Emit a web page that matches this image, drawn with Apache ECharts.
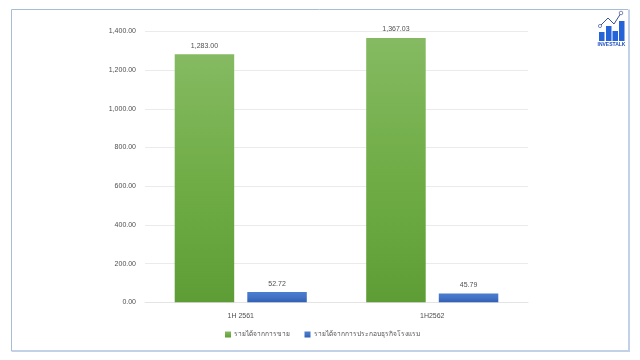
<!DOCTYPE html>
<html><head><meta charset="utf-8">
<script src="https://cdn.jsdelivr.net/npm/echarts@6/dist/echarts.min.js"></script>
<style>html,body{margin:0;padding:0;background:#fff}#c{width:640px;height:360px;filter:blur(0.35px)}</style>
</head><body><div id="c"></div>
<script>
const categories = ['1H 2561', '1H2562'];
const salesName = 'รายได้จากการขาย';
const hotelName = 'รายได้จากการประกอบธุรกิจโรงแรม';
const salesValues = [1283.00, 1367.03];
const hotelValues = [52.72, 45.79];
const fontFamily = '"Liberation Sans", "Noto Sans", "DejaVu Sans", sans-serif';
const fmt = v => v.toLocaleString('en-US', {minimumFractionDigits: 2, maximumFractionDigits: 2});
const grad = (a, b, c) => new echarts.graphic.LinearGradient(0, 0, 0, 1, [
  {offset: 0, color: a}, {offset: 0.5, color: b}, {offset: 1, color: c}]);
const label = {show: true, position: 'top', distance: 5, fontSize: 7, color: '#4f4f4f', fontFamily,
  formatter: p => fmt(p.value)};
const blue = '#2563d8';
const chart = echarts.init(document.getElementById('c'), null, {renderer: 'canvas'});
chart.setOption({
  animation: false,
  backgroundColor: '#fff',
  grid: {left: 145, right: 112, top: 31.5, bottom: 57.7},
  legend: {
    left: 225, top: 331, padding: 0, itemWidth: 6, itemHeight: 6, itemGap: 14.5,
    icon: 'rect',
    textStyle: {fontSize: 6.6, color: '#4f4f4f', fontFamily, padding: [0, 0, 0, -2]},
    data: [salesName, hotelName]
  },
  xAxis: {
    type: 'category', data: categories,
    axisLine: {lineStyle: {color: '#e4e4e4', width: 1}},
    axisTick: {show: false},
    axisLabel: {fontSize: 7, color: '#4f4f4f', margin: 10, fontFamily}
  },
  yAxis: {
    type: 'value', min: 0, max: 1400, interval: 200,
    axisLine: {show: false}, axisTick: {show: false},
    splitLine: {lineStyle: {color: '#ebebeb', width: 1}},
    axisLabel: {fontSize: 7, color: '#4f4f4f', margin: 9, fontFamily, padding: [2, 0, 0, 0], formatter: v => fmt(v)}
  },
  series: [
    {name: salesName, type: 'bar', data: salesValues, barWidth: 59.5, barGap: '22%',
     itemStyle: {color: grad('#85ba62', '#70ad47', '#5e9d35')}, label},
    {name: hotelName, type: 'bar', data: hotelValues, barWidth: 59.5,
     itemStyle: {color: grad('#4a7fd0', '#4472c4', '#2f5fb5')}, label}
  ],
  graphic: [
    {type: 'polyline', silent: true, shape: {points: [[629, 9.5], [629, 351], [11.5, 351]]},
     style: {fill: 'none', stroke: '#c3d1e8', lineWidth: 2}},
    {type: 'polyline', silent: true, shape: {points: [[11.5, 351], [11.5, 9.5], [628, 9.5]]},
     style: {fill: 'none', stroke: '#a9bcd6', lineWidth: 1}},
    {type: 'rect', silent: true, shape: {x: 599, y: 32, width: 5.5, height: 9}, style: {fill: blue}},
    {type: 'rect', silent: true, shape: {x: 606, y: 26, width: 5.5, height: 15}, style: {fill: blue}},
    {type: 'rect', silent: true, shape: {x: 612.5, y: 31, width: 5.5, height: 10}, style: {fill: blue}},
    {type: 'rect', silent: true, shape: {x: 619, y: 21, width: 5.5, height: 20}, style: {fill: blue}},
    {type: 'polyline', silent: true, shape: {points: [[600, 26], [608, 18], [614, 24], [621, 13]]},
     style: {fill: 'none', stroke: '#27408b', lineWidth: 0.9}},
    {type: 'circle', silent: true, shape: {cx: 600, cy: 26, r: 1.6}, style: {fill: '#fff', stroke: '#27408b', lineWidth: 0.6}},
    {type: 'circle', silent: true, shape: {cx: 621, cy: 13, r: 1.8}, style: {fill: '#fff', stroke: '#27408b', lineWidth: 0.6}},
    {type: 'text', silent: true, style: {x: 611.5, y: 44.5, text: 'INVESTALK', fill: '#1f4fc0', align: 'center', verticalAlign: 'middle',
      font: 'bold 5px "Liberation Sans"'}}
  ]
});
</script></body></html>
